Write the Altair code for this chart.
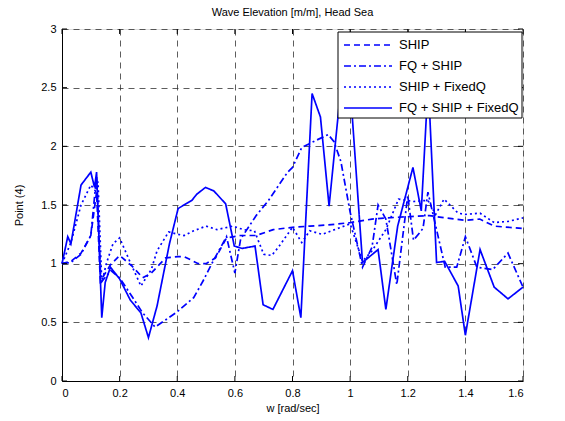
import altair as alt
import pandas as pd

series_names = ["SHIP", "FQ + SHIP", "SHIP + FixedQ", "FQ + SHIP + FixedQ"]
series_dash = [[6, 4], [7, 3, 2, 3], [2, 3], [1, 0]]

# SHIP (dashed)
w_ship = [0, 0.031, 0.066, 0.1, 0.12, 0.133, 0.168, 0.2, 0.243, 0.28, 0.31, 0.36,
          0.403, 0.424, 0.473, 0.5, 0.533, 0.571, 0.62, 0.674, 0.733, 0.8, 0.86,
          0.924, 1.0, 1.076, 1.124, 1.2, 1.275, 1.33, 1.4, 1.45, 1.5, 1.6]
v_ship = [1.0, 1.02, 1.09, 1.24, 1.61, 0.85, 0.99, 1.07, 0.98, 0.88, 0.92, 1.05,
          1.06, 1.06, 1.0, 1.0, 1.05, 1.22, 1.24, 1.24, 1.29, 1.31, 1.32,
          1.33, 1.35, 1.38, 1.39, 1.40, 1.41, 1.39, 1.37, 1.38, 1.32, 1.30]

# FQ + SHIP (dash-dot)
w_fq = [0, 0.031, 0.066, 0.1, 0.12, 0.135, 0.17, 0.2, 0.243, 0.28, 0.323, 0.359,
        0.4, 0.457, 0.489, 0.522, 0.571, 0.6, 0.62, 0.674, 0.717, 0.783, 0.8,
        0.832, 0.881, 0.924, 0.944, 0.968, 1.0, 1.043, 1.076, 1.097, 1.124,
        1.162, 1.2, 1.22, 1.253, 1.27, 1.33, 1.37, 1.4, 1.44, 1.495, 1.548, 1.6]
v_fq = [1.0, 1.01, 1.08, 1.24, 1.75, 0.84, 0.94, 0.88, 0.72, 0.58, 0.46, 0.52,
        0.59, 0.71, 0.85, 1.01, 1.23, 0.92, 1.21, 1.41, 1.54, 1.78, 1.82,
        1.99, 2.05, 2.10, 2.04, 1.87, 1.44, 0.97, 1.14, 1.50, 1.38,
        0.82, 1.58, 1.20, 1.30, 1.61, 0.97, 0.97, 1.23, 0.97, 0.95, 1.09, 0.80]

# SHIP + FixedQ (dotted)
w_fx = [0, 0.031, 0.066, 0.1, 0.116, 0.125, 0.138, 0.155, 0.177, 0.2, 0.237, 0.274,
        0.31, 0.33, 0.37, 0.403, 0.424, 0.457, 0.5, 0.538, 0.592, 0.63, 0.668,
        0.7, 0.728, 0.751, 0.8, 0.832, 0.86, 0.903, 1.0, 1.043, 1.076, 1.124,
        1.168, 1.22, 1.27, 1.297, 1.326, 1.375, 1.4, 1.451, 1.5, 1.548, 1.6]
v_fx = [1.0, 1.18, 1.5, 1.67, 1.62, 1.7, 0.84, 1.01, 1.17, 1.22, 1.01, 0.81,
        0.95, 1.11, 1.27, 1.25, 1.24, 1.28, 1.32, 1.29, 1.32, 1.29, 1.28,
        1.08, 1.07, 1.14, 1.31, 1.18, 1.28, 1.25, 1.34, 1.02, 1.11, 1.29,
        1.55, 1.53, 1.54, 1.42, 1.55, 1.43, 1.42, 1.43, 1.35, 1.36, 1.39]

# FQ + SHIP + FixedQ (solid)
w_all = [0, 0.02, 0.031, 0.066, 0.1, 0.113, 0.12, 0.138, 0.15, 0.168, 0.2, 0.237,
         0.274, 0.3, 0.33, 0.373, 0.403, 0.451, 0.467, 0.498, 0.527, 0.568, 0.598,
         0.625, 0.67, 0.698, 0.732, 0.8, 0.829, 0.868, 0.897, 0.927, 0.987,
         1.043, 1.097, 1.124, 1.165, 1.218, 1.247, 1.271, 1.3, 1.328, 1.375,
         1.4, 1.451, 1.5, 1.548, 1.6]
v_all = [1.0, 1.23, 1.17, 1.67, 1.78, 1.65, 1.78, 0.54, 0.84, 0.97, 0.87, 0.69,
         0.58, 0.37, 0.64, 1.17, 1.47, 1.54, 1.59, 1.65, 1.62, 1.51, 1.15,
         1.13, 1.15, 0.65, 0.61, 0.94, 0.54, 2.45, 2.25, 1.49, 2.97,
         1.01, 1.12, 0.61, 1.32, 1.82, 1.45, 2.55, 1.01, 1.02, 0.81,
         0.39, 1.12, 0.80, 0.70, 0.80]

x_ticks = [0, 0.2, 0.4, 0.6, 0.8, 1.0, 1.2, 1.4, 1.6]
y_ticks = [0, 0.5, 1, 1.5, 2, 2.5, 3]

rows = []
for name, ws, vs in zip(series_names, [w_ship, w_fq, w_fx, w_all],
                        [v_ship, v_fq, v_fx, v_all]):
    for i, (w, v) in enumerate(zip(ws, vs)):
        rows.append({"series": name, "w": w, "v": v, "order": i})
df = pd.DataFrame(rows)
xt_df = pd.DataFrame({"w": x_ticks})
yt_df = pd.DataFrame({"v": y_ticks})
leg_df = pd.DataFrame({"series": series_names, "idx": list(range(len(series_names)))})

FONT = "Liberation Sans"
BLUE = "#0000FF"
W, H = 461, 352

xscale = alt.Scale(domain=[0, 1.6], nice=False, zero=False)
yscale = alt.Scale(domain=[0, 3], nice=False)
dash_scale = alt.Scale(domain=series_names, range=series_dash)

common_axis = dict(labelFont=FONT, titleFont=FONT, labelFontSize=11,
                   titleFontSize=11, titleFontWeight="normal",
                   labelColor="black", titleColor="black", domainColor="black")

x_enc = alt.X("w:Q", scale=xscale,
              axis=alt.Axis(values=x_ticks, format=".1~f", title="w [rad/sec]",
                            grid=True, gridDash=[6, 5], gridColor="#333333",
                            gridOpacity=1, gridWidth=0.8, ticks=False,
                            labelPadding=6, titlePadding=4, **common_axis))
y_enc = alt.Y("v:Q", scale=yscale,
              axis=alt.Axis(values=y_ticks, format=".1~f", title="Point (4)",
                            grid=True, gridDash=[6, 5], gridColor="#333333",
                            gridOpacity=1, gridWidth=0.8, ticks=False,
                            labelPadding=6, titleX=-38, titleY=176,
                            **common_axis))

# one plain line layer per series (no faceting)
line_layers = []
for name, dash in zip(series_names, series_dash):
    line_layers.append(
        alt.Chart(df).transform_filter(alt.datum.series == name)
        .mark_line(strokeWidth=1.7, color=BLUE, strokeDash=dash)
        .encode(x=x_enc, y=y_enc, order="order:Q")
    )

# inward tick marks on all four sides (Matlab style)
tick_style = dict(color="black", strokeWidth=1)
top_ticks = alt.Chart(xt_df).mark_rule(**tick_style).encode(
    x=alt.X("w:Q", scale=xscale), y=alt.value(0), y2=alt.value(5))
bottom_ticks = alt.Chart(xt_df).mark_rule(**tick_style).encode(
    x=alt.X("w:Q", scale=xscale), y=alt.value(H), y2=alt.value(H - 5))
left_ticks = alt.Chart(yt_df).mark_rule(**tick_style).encode(
    y=alt.Y("v:Q", scale=yscale), x=alt.value(0), x2=alt.value(5))
right_ticks = alt.Chart(yt_df).mark_rule(**tick_style).encode(
    y=alt.Y("v:Q", scale=yscale), x=alt.value(W), x2=alt.value(W - 5))

# legend box drawn on top of the lines (upper right, Matlab style)
leg_box = alt.Chart(pd.DataFrame({"k": [0]})).mark_rect(
    fill="white", stroke="black", strokeWidth=1, opacity=1).encode(
    x=alt.value(276), x2=alt.value(460), y=alt.value(3), y2=alt.value(89))
leg_base = alt.Chart(leg_df).transform_calculate(py="16 + 21 * datum.idx")
leg_lines = leg_base.mark_rule(color=BLUE, strokeWidth=1.7).encode(
    x=alt.value(282), x2=alt.value(330),
    y=alt.Y("py:Q", scale=None),
    strokeDash=alt.StrokeDash("series:N", scale=dash_scale, legend=None))
leg_text = leg_base.mark_text(align="left", baseline="middle", font=FONT,
                              fontSize=13, color="black").encode(
    x=alt.value(337), y=alt.Y("py:Q", scale=None), text="series:N")

chart = alt.layer(
    *line_layers, top_ticks, bottom_ticks, left_ticks, right_ticks,
    leg_box, leg_lines, leg_text
).properties(
    width=W,
    height=H,
    title=alt.TitleParams("Wave Elevation [m/m], Head Sea", font=FONT,
                          fontSize=11, fontWeight="normal", color="black",
                          anchor="middle", offset=5),
    padding={"left": 62, "top": 29, "right": 42, "bottom": 40},
    autosize="none",
).configure_view(stroke="black", strokeWidth=1).configure(background="white")

chart.save("out.html", embed_options={"renderer": "svg", "actions": False})
